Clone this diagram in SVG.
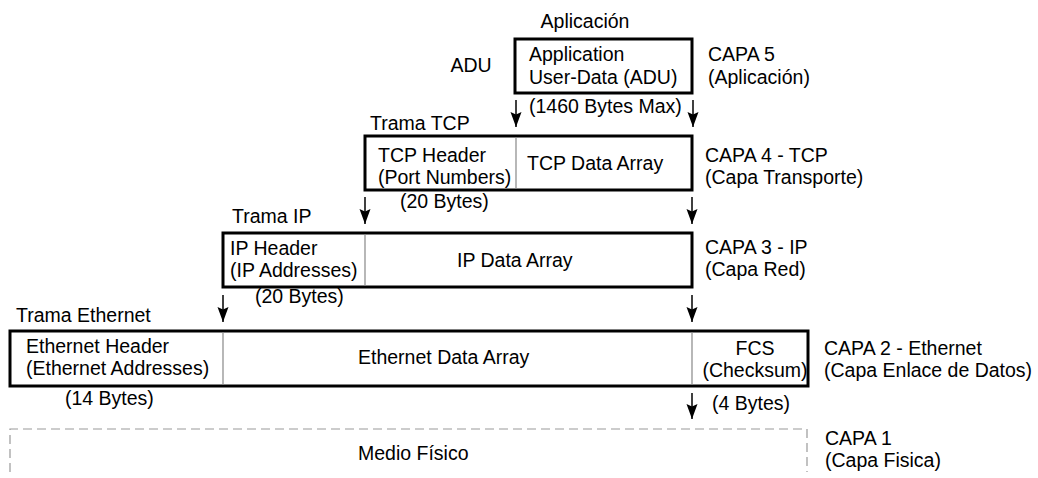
<svg xmlns="http://www.w3.org/2000/svg" width="1038" height="478" viewBox="0 0 1038 478">
<defs>
<marker id="ah" markerUnits="userSpaceOnUse" markerWidth="17" markerHeight="13" viewBox="-16 -6.5 17 13" refX="0" refY="0" orient="auto">
<path d="M0,0 L-15,-5.5 L-12.5,0 L-15,5.5 Z" fill="#000"/>
</marker>
</defs>
<style>
text{font-family:"Liberation Sans",Arial,sans-serif;font-size:19.5px;fill:#000}
.box{fill:#fff;stroke:#000;stroke-width:3}
.div{stroke:#888;stroke-width:1.2}
.arr{stroke:#000;stroke-width:1.5;fill:none;marker-end:url(#ah)}
.dash{stroke:#999;stroke-width:1.2;fill:none;stroke-dasharray:9 5}
.c{text-anchor:middle}
</style>
<rect width="1038" height="478" fill="#fff"/>
<g id="layer5">
<text x="585" y="28" class="c">Aplicación</text>
<text x="471" y="72" class="c">ADU</text>
<rect class="box" x="515" y="39" width="177" height="54"/>
<text x="529" y="61">Application</text>
<text x="529" y="84">User-Data (ADU)</text>
<text x="529" y="113">(1460 Bytes Max)</text>
<text x="708" y="61">CAPA 5</text>
<text x="708" y="84">(Aplicación)</text>
</g>
<g id="layer4">
<text x="370" y="130">Trama TCP</text>
<rect class="box" x="365" y="136" width="327" height="54"/>
<line class="div" x1="516" y1="137" x2="516" y2="189"/>
<text x="378" y="162">TCP Header</text>
<text x="378" y="184">(Port Numbers)</text>
<text x="527" y="170">TCP Data Array</text>
<text x="400" y="208">(20 Bytes)</text>
<text x="705" y="162">CAPA 4 - TCP</text>
<text x="705" y="184">(Capa Transporte)</text>
</g>
<g id="layer3">
<text x="232" y="223">Trama IP</text>
<rect class="box" x="223" y="233" width="469" height="54"/>
<line class="div" x1="365" y1="234" x2="365" y2="286"/>
<text x="230" y="255">IP Header</text>
<text x="230" y="277">(IP Addresses)</text>
<text x="457" y="267">IP Data Array</text>
<text x="255" y="303">(20 Bytes)</text>
<text x="705" y="254">CAPA 3 - IP</text>
<text x="705" y="276">(Capa Red)</text>
</g>
<g id="layer2">
<text x="16" y="322">Trama Ethernet</text>
<rect class="box" x="10" y="331" width="798" height="55"/>
<line class="div" x1="223" y1="332" x2="223" y2="385"/>
<line class="div" x1="692" y1="332" x2="692" y2="385"/>
<text x="26" y="353">Ethernet Header</text>
<text x="26" y="375">(Ethernet Addresses)</text>
<text x="358" y="364">Ethernet Data Array</text>
<text x="755" y="355" class="c">FCS</text>
<text x="755" y="377" class="c">(Checksum)</text>
<text x="65" y="405">(14 Bytes)</text>
<text x="712" y="410">(4 Bytes)</text>
<text x="824" y="355">CAPA 2 - Ethernet</text>
<text x="824" y="377">(Capa Enlace de Datos)</text>
</g>
<g id="layer1">
<path class="dash" d="M10,472 L10,429 L807,429 L807,472"/>
<text x="358" y="460">Medio Físico</text>
<text x="825" y="445">CAPA 1</text>
<text x="825" y="467">(Capa Fisica)</text>
</g>
<g id="connectors">
<line class="arr" x1="516" y1="100" x2="516" y2="127"/>
<line class="arr" x1="693" y1="100" x2="693" y2="127"/>
<line class="arr" x1="365" y1="197" x2="365" y2="224"/>
<line class="arr" x1="692" y1="197" x2="692" y2="224"/>
<line class="arr" x1="223" y1="295" x2="223" y2="322"/>
<line class="arr" x1="692" y1="295" x2="692" y2="322"/>
<line class="arr" x1="692" y1="393" x2="692" y2="419"/>
</g>
</svg>
